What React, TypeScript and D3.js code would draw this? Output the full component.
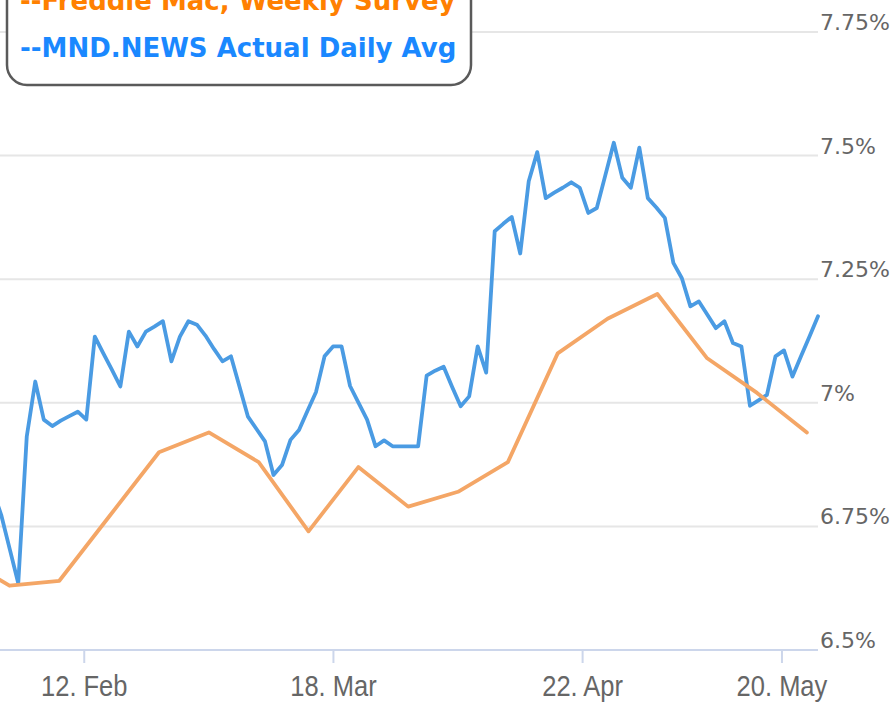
import React from "react";
import * as d3 from "d3";

// ---- data ----
const freddieDates = [
  "2024-01-25", "2024-02-01", "2024-02-08", "2024-02-15", "2024-02-22", "2024-02-29",
  "2024-03-07", "2024-03-14", "2024-03-21", "2024-03-28", "2024-04-04", "2024-04-11",
  "2024-04-18", "2024-04-25", "2024-05-02", "2024-05-09", "2024-05-16", "2024-05-23",
];
const freddieValues = [
  6.69, 6.63, 6.64, 6.77, 6.90, 6.94, 6.88, 6.74, 6.87, 6.79, 6.82, 6.88,
  7.10, 7.17, 7.22, 7.09, 7.02, 6.94,
];

// MND daily average, evenly spaced sessions from mndFirst to mndLast
const mndFirst = "2024-01-30T03:30";
const mndLast = "2024-05-25T01:30";
const mndValues = [
  6.824, 6.773, 6.704, 6.635, 6.932, 7.043, 6.966, 6.953, 6.964, 6.973,
  6.982, 6.966, 7.134, 7.100, 7.067, 7.033, 7.144, 7.114, 7.144, 7.154,
  7.165, 7.084, 7.134, 7.165, 7.158, 7.136, 7.109, 7.084, 7.094, 7.033,
  6.972, 6.947, 6.922, 6.854, 6.874, 6.925, 6.945, 6.984, 7.022, 7.094,
  7.114, 7.114, 7.034, 7.000, 6.966, 6.912, 6.924, 6.912, 6.912, 6.912,
  6.912, 7.055, 7.065, 7.073, 7.032, 6.993, 7.013, 7.114, 7.061, 7.347,
  7.362, 7.376, 7.302, 7.448, 7.507, 7.414, 7.425, 7.435, 7.446, 7.435,
  7.384, 7.394, 7.460, 7.526, 7.455, 7.435, 7.516, 7.414, 7.395, 7.374,
  7.283, 7.252, 7.195, 7.205, 7.178, 7.151, 7.165, 7.121, 7.114, 6.994,
  7.005, 7.016, 7.094, 7.106, 7.053, 7.094, 7.134, 7.175,
];

const xTickDates = ["2024-02-12", "2024-03-18", "2024-04-22", "2024-05-20"];
const xTickLabels = ["12. Feb", "18. Mar", "22. Apr", "20. May"];
const yTicks = [6.5, 6.75, 7, 7.25, 7.5, 7.75];
const yTickLabels = ["6.5%", "6.75%", "7%", "7.25%", "7.5%", "7.75%"];

const legendLabels = ["--Freddie Mac, Weekly Survey", "--MND.NEWS Actual Daily Avg"];

// ---- layout ----
const W = 893;
const H = 707;
const plotLeft = 0;
const plotRight = 818;
const plotTop = 32;
const plotBottom = 650;

const parse = (s: string) => {
  const [d, t] = s.split("T");
  const [y, m, dd] = d.split("-").map(Number);
  let hh = 0, mm = 0;
  if (t) [hh, mm] = t.split(":").map(Number);
  return new Date(y, m - 1, dd, hh, mm);
};

export default function App() {
  const x = d3
    .scaleTime()
    .domain([new Date(2024, 0, 31, 4, 0), parse(mndLast)])
    .range([plotLeft, plotRight]);
  const y = d3.scaleLinear().domain([6.5, 7.75]).range([plotBottom, plotTop]);

  const t0 = parse(mndFirst).getTime();
  const t1 = parse(mndLast).getTime();
  const step = (t1 - t0) / (mndValues.length - 1);
  const mndPts: [Date, number][] = mndValues.map((v, i) => [new Date(t0 + i * step), v]);
  const fredPts: [Date, number][] = freddieDates.map((d, i) => {
    const dt = parse(d);
    dt.setHours(12);
    return [dt, freddieValues[i]];
  });

  const line = d3
    .line<[Date, number]>()
    .x((d) => x(d[0]))
    .y((d) => y(d[1]));

  return (
    <div style={{ position: "absolute", left: 0, top: 0 }}>
      <svg width={W} height={H} style={{ display: "block", background: "#fff" }}>
        <defs>
          <clipPath id="plot">
            <rect x={plotLeft} y={0} width={plotRight - plotLeft + 2} height={plotBottom} />
          </clipPath>
        </defs>
        {/* gridlines */}
        {yTicks.map((t) =>
          t === 6.5 ? null : (
            <line key={t} x1={plotLeft} x2={plotRight} y1={y(t)} y2={y(t)} stroke="#e6e6e6" strokeWidth={2} />
          )
        )}
        {/* x axis */}
        <line x1={plotLeft} x2={plotRight} y1={plotBottom} y2={plotBottom} stroke="#ccd6eb" strokeWidth={2} />
        {xTickDates.map((d, i) => {
          const xx = x(parse(d));
          return (
            <g key={d}>
              <line x1={xx} x2={xx} y1={plotBottom} y2={plotBottom + 13} stroke="#ccd6eb" strokeWidth={2} />
              <text
                transform={`translate(${xx},696) scale(0.85,1)`}
                textAnchor="middle"
                fontFamily="'Liberation Sans', Arial, sans-serif"
                fontSize={30}
                fill="#666"
              >
                {xTickLabels[i]}
              </text>
            </g>
          );
        })}
        {/* y labels */}
        {yTicks.map((t, i) => (
          <text key={t} x={820} y={y(t) - 2} fontFamily="'DejaVu Sans', Verdana, sans-serif" fontSize={22} fill="#666">
            {yTickLabels[i]}
          </text>
        ))}
        {/* series */}
        <g clipPath="url(#plot)">
          <path d={line(mndPts) || ""} fill="none" stroke="#4a9be3" strokeWidth={3.8} strokeLinejoin="round" strokeLinecap="round" />
          <path d={line(fredPts) || ""} fill="none" stroke="#f4a666" strokeWidth={3.8} strokeLinejoin="round" strokeLinecap="round" />
        </g>
        {/* legend */}
        <rect x={7} y={-40} width={464} height={125} rx={20} ry={20} fill="#fff" stroke="#5a5a5a" strokeWidth={2.5} />
        <text x={20} y={10} fontFamily="'DejaVu Sans', Verdana, sans-serif" fontWeight="bold" fontSize={26} fill="#ff8000">
          {legendLabels[0]}
        </text>
        <text x={20} y={57} fontFamily="'DejaVu Sans', Verdana, sans-serif" fontWeight="bold" fontSize={26} fill="#1a88ff">
          {legendLabels[1]}
        </text>
      </svg>
    </div>
  );
}
